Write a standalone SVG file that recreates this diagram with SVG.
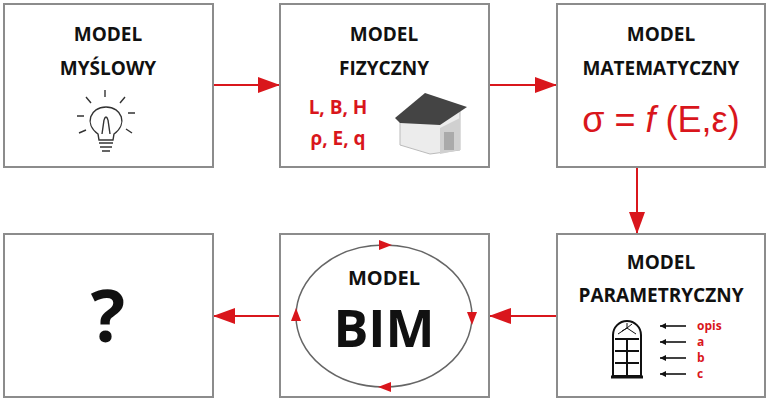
<svg xmlns="http://www.w3.org/2000/svg" width="768" height="413" viewBox="0 0 768 413">
<style>
.box{fill:#fff;stroke:#8c8c8c;stroke-width:2}
.t{font-family:"Open Sans","Liberation Sans",sans-serif;font-weight:bold;font-size:19px;text-anchor:middle;fill:#111}
.r{font-family:"Open Sans","Liberation Sans",sans-serif;font-weight:bold;fill:#d9161c}
.con{stroke:#d9161c;stroke-width:2;fill:none}
</style>
<defs>
<marker id="ah" viewBox="0 0 10 10" refX="10" refY="5" markerWidth="22" markerHeight="16" markerUnits="userSpaceOnUse" orient="auto" preserveAspectRatio="none"><path d="M0,0L10,5L0,10z" fill="#d9161c"/></marker>
<marker id="sa" viewBox="0 0 10 10" refX="10" refY="5" markerWidth="8" markerHeight="6" orient="auto" markerUnits="userSpaceOnUse"><path d="M0,0L10,5L0,10z" fill="#111"/></marker>
</defs>
<rect width="768" height="413" fill="#fff"/>
<g id="connectors">
<path class="con" d="M213,85H280" marker-end="url(#ah)"/>
<path class="con" d="M489,85H557" marker-end="url(#ah)"/>
<path class="con" d="M637,167V234" marker-end="url(#ah)"/>
<path class="con" d="M557,316H489" marker-end="url(#ah)"/>
<path class="con" d="M280,316H213" marker-end="url(#ah)"/>
</g>
<g id="n1">
<rect class="box" x="4" y="4" width="209" height="163"/>
<text class="t" x="108" y="41">MODEL</text>
<text class="t" x="108" y="75">MYŚLOWY</text>
<g stroke="#333" stroke-width="1.4" fill="none">
<path d="M98,134C84,124 90,107 106,107C122,107 128,124 114,134L113,140H99Z"/>
<path d="M99,143H113M100,147H112M102,151H110"/>
<path d="M102,134L104,120M110,134L108,120M104,120Q106,114 108,120"/>
<path d="M86,97L91,103M105,90V97M125,97L120,103M77,116H84M128,113H135M79,133L86,130M126,129L132,133"/>
</g>
</g>
<g id="n2">
<rect class="box" x="280" y="4" width="209" height="163"/>
<text class="t" x="384" y="41">MODEL</text>
<text class="t" x="384" y="75">FIZYCZNY</text>
<text class="r" x="338" y="114" font-size="19" text-anchor="middle">L, B, H</text>
<text class="r" x="338" y="145" font-size="19" text-anchor="middle">ρ, E, q</text>
<path d="M400,120L425,97L460,110L460,150L430,154L400,145Z" fill="#ececec" stroke="#bbb"/>
<path d="M395,118L425,93L467,107L440,125L400,123Z" fill="#444"/>
<path d="M440,128L460,118V150L440,154Z" fill="#d0d0d0"/>
<rect x="444" y="132" width="10" height="18" fill="#aaa"/>
</g>
<g id="n3">
<rect class="box" x="557" y="4" width="208" height="163"/>
<text class="t" x="661" y="41">MODEL</text>
<text class="t" x="661" y="75">MATEMATYCZNY</text>
<text x="661" y="132" font-family="Liberation Sans,sans-serif" font-size="36" text-anchor="middle" fill="#d9161c">σ = <tspan font-style="italic">f</tspan> (E,ε)</text>
</g>
<g id="n6">
<rect class="box" x="557" y="234" width="208" height="163"/>
<text class="t" x="661" y="269">MODEL</text>
<text class="t" x="661" y="302">PARAMETRYCZNY</text>
<g stroke="#111" fill="none" stroke-width="2">
<path d="M613,376V335A14,14 0 0 1 641,335V376Z"/>
<path d="M615,339H639M627,339V376M615,351H639M615,363H639"/>
<path d="M611,377H643" stroke-width="3"/>
<path d="M627,328L618,334M627,328L622,331M627,328L627,323M627,328L632,324M627,328L636,334" stroke-width="1"/>
</g>
<g stroke="#111" stroke-width="1.6">
<path d="M686,326H660" marker-end="url(#sa)"/>
<path d="M686,342H660" marker-end="url(#sa)"/>
<path d="M686,358H660" marker-end="url(#sa)"/>
<path d="M686,374H660" marker-end="url(#sa)"/>
</g>
<g class="r" style="font-size:12px">
<text x="697" y="330">opis</text>
<text x="697" y="346">a</text>
<text x="697" y="362">b</text>
<text x="697" y="378">c</text>
</g>
</g>
<g id="n5">
<rect class="box" x="280" y="234" width="209" height="163"/>
<ellipse cx="384" cy="316" rx="88" ry="71" fill="none" stroke="#666" stroke-width="1.5"/>
<polygon points="392,245 379,240 379,250" fill="#d9161c"/>
<polygon points="472,325 467,312 477,312" fill="#d9161c"/>
<polygon points="378,387 391,382 391,392" fill="#d9161c"/>
<polygon points="296,308 291,321 301,321" fill="#d9161c"/>
<text class="t" x="384" y="285" style="font-size:20px">MODEL</text>
<text class="t" x="384" y="347" style="font-size:52px">BIM</text>
</g>
<g id="n4">
<rect class="box" x="4" y="234" width="209" height="163"/>
<text class="t" x="108" y="342" style="font-size:72px">?</text>
</g>
</svg>
